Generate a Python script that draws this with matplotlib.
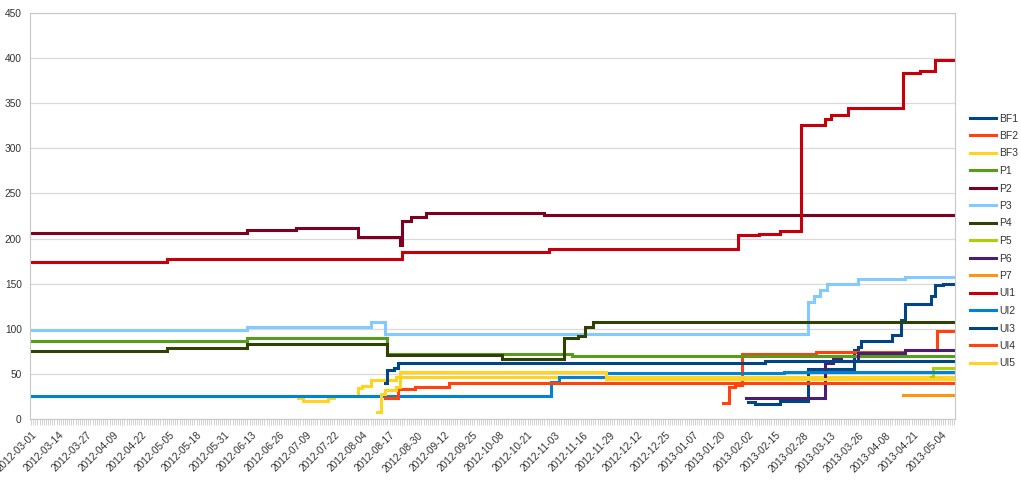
import matplotlib
matplotlib.use("Agg")
import matplotlib.pyplot as plt
import matplotlib.dates as mdates
import pandas as pd

# step series: (date where value changes, new value); last entry marks the end
bf1_dates = ["2013-02-02", "2013-02-05", "2013-02-17", "2013-03-02", "2013-03-24", "2013-03-26",
             "2013-03-27", "2013-04-11", "2013-04-15", "2013-04-17", "2013-04-29", "2013-05-01",
             "2013-05-05", "2013-05-10"]
bf1_vals = [19, 17, 20, 55, 77, 80, 87, 93, 110, 128, 136, 148, 150, 150]

bf2_dates = ["2013-01-21", "2013-01-24", "2013-01-27", "2013-01-30", "2013-03-06", "2013-04-17",
             "2013-05-02", "2013-05-10"]
bf2_vals = [18, 36, 38, 72, 74, 76, 98, 98]

bf3_dates = ["2012-07-05", "2012-07-07", "2012-07-19", "2012-07-22", "2012-08-02", "2012-08-04",
             "2012-08-08", "2012-08-20", "2013-05-10"]
bf3_vals = [23, 20, 23, 25, 34, 37, 43, 47, 47]

p1_dates = ["2012-03-01", "2012-06-11", "2012-08-16", "2012-11-11", "2013-05-10"]
p1_vals = [87, 90, 72, 70, 70]

p2_dates = ["2012-03-01", "2012-06-11", "2012-07-04", "2012-08-02", "2012-08-22", "2012-08-23",
            "2012-08-27", "2012-09-03", "2012-10-29", "2013-05-10"]
p2_vals = [206, 209, 212, 202, 193, 219, 224, 228, 226, 226]

p3_dates = ["2012-03-01", "2012-06-11", "2012-08-08", "2012-08-15", "2013-03-02", "2013-03-05",
            "2013-03-08", "2013-03-11", "2013-03-26", "2013-04-17", "2013-05-10"]
p3_vals = [99, 102, 108, 94, 130, 136, 143, 150, 155, 157, 157]

p4_dates = ["2012-03-01", "2012-05-04", "2012-06-11", "2012-08-16", "2012-10-09", "2012-11-07",
            "2012-11-14", "2012-11-17", "2012-11-21", "2012-11-27", "2013-05-10"]
p4_vals = [75, 79, 83, 71, 67, 90, 92, 102, 107, 108, 108]

p5_dates = ["2013-04-29", "2013-04-30", "2013-05-10"]
p5_vals = [47, 56, 56]

p6_dates = ["2013-02-01", "2013-03-10", "2013-03-14", "2013-03-16", "2013-03-18", "2013-03-26",
            "2013-04-17", "2013-05-10"]
p6_vals = [23, 62, 66, 67, 64, 73, 76, 76]

p7_dates = ["2013-04-16", "2013-05-10"]
p7_vals = [27, 27]

ui1_dates = ["2012-03-01", "2012-05-04", "2012-08-23", "2012-10-31", "2013-01-28", "2013-02-07",
             "2013-02-17", "2013-02-27", "2013-03-10", "2013-03-13", "2013-03-21", "2013-04-16",
             "2013-04-24", "2013-05-01", "2013-05-10"]
ui1_vals = [174, 177, 185, 188, 204, 205, 208, 326, 333, 337, 345, 383, 386, 398, 398]

ui2_dates = ["2012-03-01", "2012-11-01", "2012-11-05", "2012-11-27", "2013-02-19", "2013-05-10"]
ui2_vals = [26, 41, 47, 51, 52, 52]

ui3_dates = ["2012-08-15", "2012-08-16", "2012-08-19", "2012-08-21", "2013-02-10", "2013-05-10"]
ui3_vals = [40, 54, 56, 62, 64, 64]

ui4_dates = ["2012-08-15", "2012-08-21", "2012-08-29", "2012-09-14", "2013-05-10"]
ui4_vals = [23, 33, 35, 40, 40]

ui5_dates = ["2012-08-11", "2012-08-13", "2012-08-15", "2012-08-20", "2012-08-22", "2012-11-27",
             "2013-05-10"]
ui5_vals = [8, 28, 32, 36, 52, 44, 44]

names = ["BF1", "BF2", "BF3", "P1", "P2", "P3", "P4", "P5", "P6", "P7", "UI1", "UI2", "UI3", "UI4", "UI5"]
colors = ["#004586", "#ff420e", "#ffd320", "#579d1c", "#7e0021", "#83caff", "#314004", "#aecf00",
          "#4b1f6f", "#ff950e", "#c5000b", "#0084d1", "#004586", "#ff420e", "#ffd320"]
series = [(bf1_dates, bf1_vals), (bf2_dates, bf2_vals), (bf3_dates, bf3_vals),
          (p1_dates, p1_vals), (p2_dates, p2_vals), (p3_dates, p3_vals), (p4_dates, p4_vals),
          (p5_dates, p5_vals), (p6_dates, p6_vals), (p7_dates, p7_vals),
          (ui1_dates, ui1_vals), (ui2_dates, ui2_vals), (ui3_dates, ui3_vals),
          (ui4_dates, ui4_vals), (ui5_dates, ui5_vals)]

plt.rcParams["font.family"] = ["Liberation Sans", "DejaVu Sans"]

fig = plt.figure(figsize=(10.21, 4.82), dpi=100)
ax = fig.add_axes([30 / 1021, 1 - 419 / 482, 925 / 1021, 406 / 482])

for name, color, (d, v) in zip(names, colors, series):
    ax.plot(pd.to_datetime(d), v, drawstyle="steps-post", color=color, lw=2.2,
            label=name, solid_joinstyle="miter")

start = pd.Timestamp("2012-03-01")
end = pd.Timestamp("2013-05-10")
ax.set_xlim(start - pd.Timedelta(hours=12), end + pd.Timedelta(hours=12))
ax.set_ylim(0, 450)
ax.set_yticks(range(0, 451, 50))
ax.yaxis.grid(True, color="#d9d9d9", lw=0.9)
ax.set_axisbelow(True)

major = pd.date_range(start, end, freq="13D")
ax.set_xticks(major)
ax.xaxis.set_major_formatter(mdates.DateFormatter("%Y-%m-%d"))
ax.xaxis.set_minor_locator(mdates.DayLocator())
plt.setp(ax.get_xticklabels(), rotation=45, ha="right", rotation_mode="anchor")

ax.tick_params(axis="x", which="both", length=4, color="#cccccc", width=0.6,
               labelsize=7.3, labelcolor="#333333", pad=4)
ax.tick_params(axis="y", length=0, labelsize=7.3, labelcolor="#333333", pad=6)
for s in ax.spines.values():
    s.set_color("#c8c8c8")
    s.set_linewidth(0.8)

fig.legend(loc="center left", bbox_to_anchor=(965 / 1021, 0.5), frameon=False,
           fontsize=7.5, handlelength=2.5, handletextpad=0.3, labelspacing=0.72,
           borderpad=0, labelcolor="#333333")

fig.savefig("out.png", dpi=100)
